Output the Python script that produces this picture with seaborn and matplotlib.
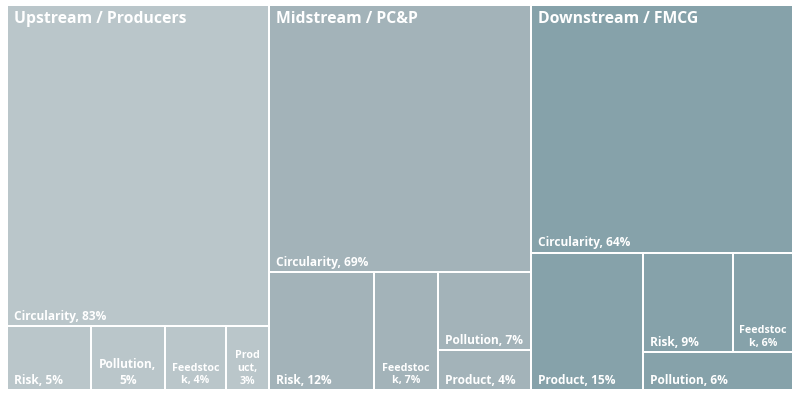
import matplotlib
matplotlib.use("Agg")
import matplotlib.pyplot as plt
from matplotlib.patches import Rectangle
import seaborn as sns

# ---------------- data (shares in %, read from the tile areas) ----------------
group_names = ["Upstream / Producers", "Midstream / PC&P", "Downstream / FMCG"]
group_colors = ["#BAC6CA", "#A3B3B9", "#86A2AA"]

upstream_labels = ["Circularity", "Risk", "Pollution", "Feedstock", "Product"]
upstream_values = [83.4, 5.3, 4.7, 3.9, 2.7]

midstream_labels = ["Circularity", "Risk", "Feedstock", "Pollution", "Product"]
midstream_values = [69.4, 12.3, 7.4, 7.2, 3.7]

downstream_labels = ["Circularity", "Product", "Risk", "Feedstock", "Pollution"]
downstream_values = [64.4, 15.2, 8.9, 5.9, 5.6]

group_labels = [upstream_labels, midstream_labels, downstream_labels]
group_values = [upstream_values, midstream_values, downstream_values]

# ---------------- style ----------------
sns.set_theme(style="white")
plt.rcParams["font.family"] = ["Open Sans", "DejaVu Sans"]
FONT_W = "bold"
HEAD_SIZE = 11.3
LEAF_SIZE = 8.6
SMALL_SIZE = 7.7

W_PX, H_PX = 800, 397
fig = plt.figure(figsize=(W_PX / 100, H_PX / 100), dpi=100)
fig.patch.set_facecolor("white")
X0, Y0, TW, TH = 7, 5, 786, 385  # treemap extent in pixels
ax = fig.add_axes([X0 / W_PX, (H_PX - Y0 - TH) / H_PX, TW / W_PX, TH / H_PX])
ax.set_xlim(0, TW)
ax.set_ylim(TH, 0)
ax.axis("off")


def squarify(values, x, y, w, h, bias=1.2):
    """Squarified treemap layout; strips run along the width unless the
    free rectangle is clearly wider than tall."""
    rects = []
    rem = float(sum(values))
    i, n = 0, len(values)

    def worst(row, side, scale):
        s = sum(row) * scale
        thick = s / side
        r = 0
        for v in row:
            length = v * scale / thick
            r = max(r, length / thick, thick / length)
        return r

    while i < n:
        column = w > bias * h
        side = h if column else w
        scale = w * h / rem
        row = [values[i]]
        j = i + 1
        best = worst(row, side, scale)
        while j < n:
            cand = row + [values[j]]
            s = worst(cand, side, scale)
            if s <= best:
                row, best = cand, s
                j += 1
            else:
                break
        tot = sum(row)
        thick = tot * scale / side
        pos = 0.0
        for v in row:
            length = v * scale / thick
            if column:
                rects.append((x, y + pos, thick, length))
            else:
                rects.append((x + pos, y, length, thick))
            pos += length
        if column:
            x += thick
            w -= thick
        else:
            y += thick
            h -= thick
        rem -= tot
        i = j
    return rects


renderer = fig.canvas.get_renderer()


def text_width(s, size):
    t = ax.text(0, 0, s, fontsize=size, fontweight=FONT_W)
    wd = t.get_window_extent(renderer).width
    t.remove()
    return wd


def wrap(words, size, avail, break_words):
    lines, cur = [], ""
    for word in words:
        cand = word if not cur else cur + " " + word
        if text_width(cand, size) <= avail:
            cur = cand
            continue
        if cur:
            lines.append(cur)
            cur = ""
        if text_width(word, size) <= avail:
            cur = word
            continue
        if not break_words:
            return None
        piece = ""
        for ch in word:
            if text_width(piece + ch, size) <= avail:
                piece += ch
            else:
                lines.append(piece)
                piece = ch
        cur = piece
    if cur:
        lines.append(cur)
    return lines


GAP = 1.1
group_rects = squarify([sum(v) for v in group_values], 0, 0, TW, TH)

for gname, gcol, (gx, gy, gw, gh), labs, vals in zip(
        group_names, group_colors, group_rects, group_labels, group_values):
    leaf_rects = squarify(vals, gx, gy, gw, gh)
    for lab, val, (x, y, w, h) in zip(labs, vals, leaf_rects):
        ax.add_patch(Rectangle((x + GAP, y + GAP), w - 2 * GAP, h - 2 * GAP,
                               facecolor=gcol, edgecolor="none"))
        text = f"{lab}, {val:.0f}%"
        avail = w - 11
        base_y = y + h - 3.5
        if text_width(text, LEAF_SIZE) <= avail:
            ax.text(x + 7, base_y, text, fontsize=LEAF_SIZE, fontweight=FONT_W,
                    color="white", ha="left", va="bottom")
            continue
        lines = wrap(text.split(" "), LEAF_SIZE, avail, False)
        size = LEAF_SIZE
        if lines is None:
            size = SMALL_SIZE
            lines = wrap(text.split(" "), SMALL_SIZE, avail, True)
        ax.text(x + w / 2, base_y, "\n".join(lines), fontsize=size,
                fontweight=FONT_W, color="white", ha="center", va="bottom",
                multialignment="center", linespacing=1.2)
    ax.text(gx + 7, gy + 6, gname, fontsize=HEAD_SIZE, fontweight=FONT_W,
            color="white", ha="left", va="top")

fig.savefig("out.png", dpi=100, facecolor="white")
